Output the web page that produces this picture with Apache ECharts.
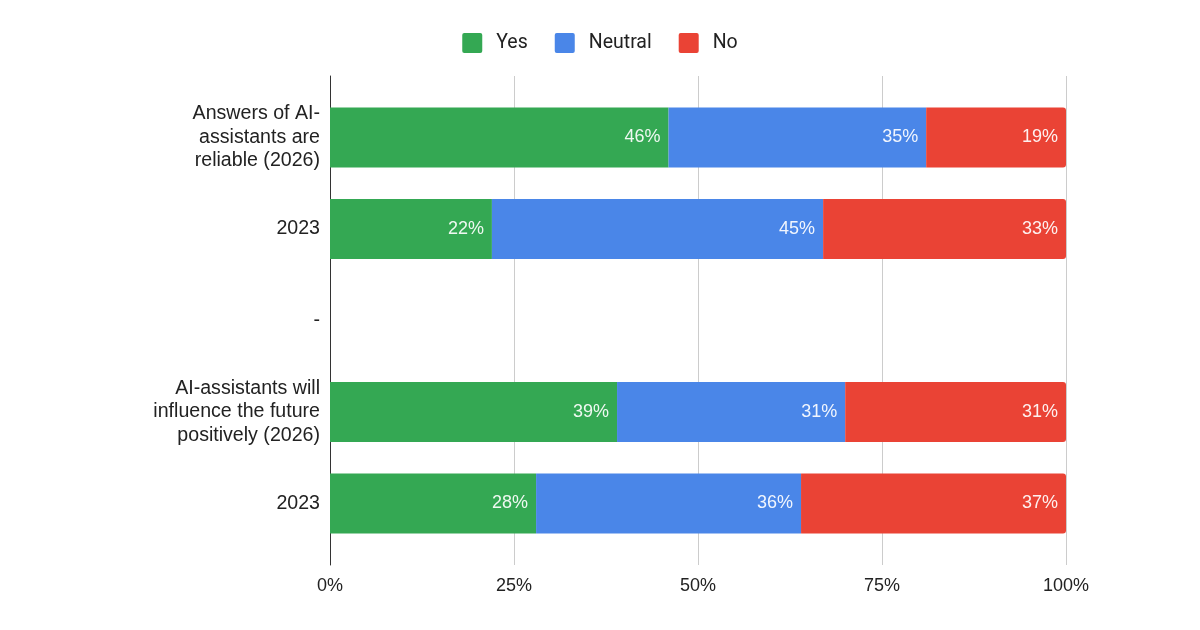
<!DOCTYPE html>
<html>
<head>
<meta charset="utf-8">
<script src="https://cdn.jsdelivr.net/npm/echarts@6/dist/echarts.min.js"></script>
<style>html,body{margin:0;padding:0;background:#fff}#c{width:1200px;height:630px}</style>
</head>
<body>
<div id="c"></div>
<script>
const categories = [
  "Answers of AI-\nassistants are\nreliable (2026)",
  "2023",
  "-",
  "AI-assistants will\ninfluence the future\npositively (2026)",
  "2023"
];
const yesValues = [46, 22, null, 39, 28];
const neutralValues = [35, 45, null, 31, 36];
const noValues = [19, 33, null, 31, 37];
const xTicks = [0, 25, 50, 75, 100];

const chart = echarts.init(document.getElementById('c'));
const labelStyle = {
  show: true,
  position: 'insideRight',
  distance: 8,
  color: 'rgba(255,255,255,0.92)',
  fontFamily: 'Arial, "Liberation Sans", sans-serif',
  fontSize: 18,
  formatter: p => (p.value == null ? '' : p.value + '%')
};
function mk(name, data, color, radius) {
  return {
    name, type: 'bar', stack: 'total', data,
    xAxisIndex: 1, yAxisIndex: 1,
    barWidth: 60,
    itemStyle: { color, borderRadius: radius },
    label: labelStyle,
    emphasis: { disabled: true }
  };
}
const sq = 'path://M2,0 H18 A2,2 0 0 1 20,2 V18 A2,2 0 0 1 18,20 H2 A2,2 0 0 1 0,18 V2 A2,2 0 0 1 2,0 Z';
chart.setOption({
  animation: false,
  color: ['#34a853', '#4a86e8', '#ea4335'],
  legend: {
    top: 28,
    left: 'center',
    itemWidth: 20,
    itemHeight: 20,
    itemGap: 27,
    icon: sq,
    textStyle: { fontFamily: 'Roboto, Arial, sans-serif', fontSize: 19.5, color: '#222', padding: [0, 0, 0, 9] },
    data: ['Yes', 'Neutral', 'No']
  },
  grid: [
    { left: 330, right: 134, top: 76, height: 489 },
    { left: 330, right: 134, top: 91.75, height: 457.5 }
  ],
  xAxis: [
    {
      gridIndex: 0, type: 'value', min: xTicks[0], max: xTicks[xTicks.length - 1], interval: 25,
      axisLine: { show: false }, axisTick: { show: false },
      splitLine: { lineStyle: { color: '#cccccc', width: 1 } },
      axisLabel: {
        formatter: v => xTicks.includes(v) ? v + '%' : '',
        fontFamily: 'Arial, "Liberation Sans", sans-serif', fontSize: 18, color: '#222', margin: 12
      }
    },
    { gridIndex: 1, type: 'value', min: 0, max: 100, show: false }
  ],
  yAxis: [
    {
      gridIndex: 0, type: 'value', min: 0, max: 1,
      axisLine: { show: true, lineStyle: { color: '#333', width: 1 } },
      axisTick: { show: false }, axisLabel: { show: false }, splitLine: { show: false }
    },
    {
      gridIndex: 1, type: 'category', data: categories, inverse: true,
      axisLine: { show: false }, axisTick: { show: false },
      axisLabel: {
        fontFamily: 'Arial, "Liberation Sans", sans-serif', fontSize: 19.6, color: '#222',
        lineHeight: 23.5, margin: 10, align: 'right'
      }
    }
  ],
  series: [
    mk('Yes', yesValues, '#34a853', 0),
    mk('Neutral', neutralValues, '#4a86e8', 0),
    mk('No', noValues, '#ea4335', [0, 3, 3, 0])
  ]
});
</script>
</body>
</html>
